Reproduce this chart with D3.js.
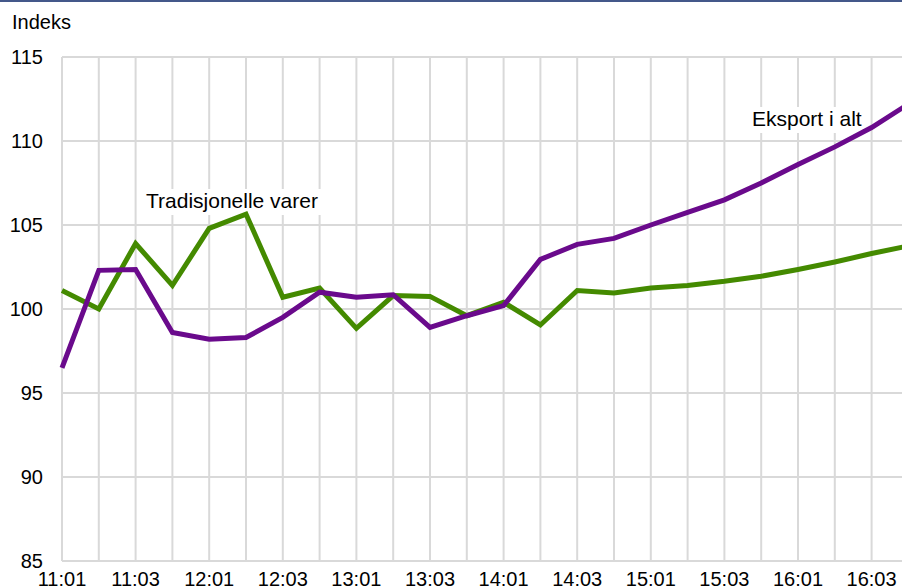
<!DOCTYPE html>
<html>
<head>
<meta charset="utf-8">
<script src="https://cdn.jsdelivr.net/npm/d3@7"></script>
<style>
  body { margin: 0; background: #fff; }
  svg { display: block; font-family: "Liberation Sans", Arial, sans-serif; }
</style>
</head>
<body>
<div id="canvas"><svg></svg></div>
<script>
var quarters = ["11:01","11:02","11:03","11:04","12:01","12:02","12:03","12:04",
                "13:01","13:02","13:03","13:04","14:01","14:02","14:03","14:04",
                "15:01","15:02","15:03","15:04","16:01","16:02","16:03","16:04"];
var tickLabels = ["11:01","11:03","12:01","12:03","13:01","13:03","14:01","14:03","15:01","15:03","16:01","16:03"];
var yTicks = [85, 90, 95, 100, 105, 110, 115];

// Eksport i alt
var eksport = [96.5, 102.3, 102.35, 98.6, 98.2, 98.3, 99.5, 101.0,
               100.7, 100.85, 98.9, 99.6, 100.2, 102.95, 103.85, 104.2,
               105.0, 105.75, 106.5, 107.5, 108.6, 109.65, 110.8, 112.2];
// Tradisjonelle varer
var tradisjonelle = [101.1, 100.0, 103.9, 101.4, 104.8, 105.65, 100.7, 101.25,
                     98.85, 100.8, 100.75, 99.6, 100.4, 99.05, 101.1, 100.95,
                     101.25, 101.4, 101.65, 101.95, 102.35, 102.8, 103.3, 103.75];

var width = 902, height = 588;
var svg = d3.select("#canvas svg").attr("width", width).attr("height", height);

var x = d3.scalePoint().domain(quarters).range([62, 62 + 23 * 36.8]);
var y = d3.scaleLinear().domain([85, 115]).range([561, 57]);

// top border
svg.append("rect").attr("x", 0).attr("y", 0).attr("width", width).attr("height", 2)
  .attr("fill", "#44588a");

// gridlines
svg.append("g").selectAll("line.v").data(quarters).enter().append("line")
  .attr("x1", function (d) { return x(d); }).attr("x2", function (d) { return x(d); })
  .attr("y1", y(115)).attr("y2", y(85))
  .attr("stroke", "#d9d9d9").attr("stroke-width", 2);

svg.append("g").selectAll("line.h").data(yTicks).enter().append("line")
  .attr("x1", 62).attr("x2", width)
  .attr("y1", function (d) { return y(d); }).attr("y2", function (d) { return y(d); })
  .attr("stroke", "#d9d9d9").attr("stroke-width", 2);

// y tick labels
svg.append("g").selectAll("text").data(yTicks).enter().append("text")
  .attr("x", 43).attr("y", function (d) { return y(d); })
  .attr("dy", "0.35em").attr("text-anchor", "end")
  .attr("font-size", 20).attr("fill", "#000")
  .text(function (d) { return d; });

// x tick labels (cut by the bottom edge, as in the original)
svg.append("g").selectAll("text").data(tickLabels).enter().append("text")
  .attr("x", function (d) { return x(d); }).attr("y", 586)
  .attr("text-anchor", "middle").attr("font-size", 20).attr("fill", "#000")
  .text(function (d) { return d; });

svg.append("text").attr("x", 12).attr("y", 29).attr("font-size", 20).text("Indeks");

// series labels with white box
function label(txt, lx, ly, bx, by, bw, bh) {
  svg.append("rect").attr("x", bx).attr("y", by).attr("width", bw).attr("height", bh).attr("fill", "#fff");
  svg.append("text").attr("x", lx).attr("y", ly).attr("font-size", 21).attr("fill", "#000").text(txt);
}
label("Tradisjonelle varer", 146, 208, 140, 189, 186, 26);
label("Eksport i alt", 752, 126, 747, 107, 120, 26);

var line = d3.line()
  .x(function (d, i) { return x(quarters[i]); })
  .y(function (d) { return y(d); });

svg.append("path").datum(tradisjonelle).attr("d", line)
  .attr("fill", "none").attr("stroke", "#448a00").attr("stroke-width", 5)
  .attr("stroke-linejoin", "miter");

svg.append("path").datum(eksport).attr("d", line)
  .attr("fill", "none").attr("stroke", "#6a0a8c").attr("stroke-width", 5)
  .attr("stroke-linejoin", "miter");
</script>
</body>
</html>
